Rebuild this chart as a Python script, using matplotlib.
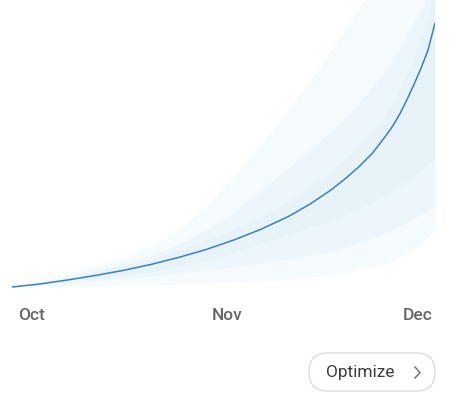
import matplotlib
matplotlib.use("Agg")
import matplotlib.pyplot as plt
from matplotlib.patches import FancyBboxPatch
from matplotlib.lines import Line2D
from matplotlib.transforms import IdentityTransform

# days since Oct 1 (Dec 1 = day 61)
days = [0, 4, 8, 12, 16, 20, 24, 28, 32, 36, 40, 43, 46, 48, 50, 52, 54, 55, 56, 57, 58, 59, 60, 61]

# forecast line
forecast = [1, 4, 8, 12.5, 17.5, 23.5, 30.5, 38.5, 48, 59, 72, 84, 98, 109, 121, 135,
            153, 163, 175, 189, 204, 220, 238, 265]

# bands around the forecast, inner to outer
inner_hi = [1, 5, 10, 15.5, 21.5, 28.5, 37.5, 47.5, 59, 72, 87, 101, 117, 129, 142, 157,
            176, 187, 200, 216, 233, 251, 271, 300]
inner_lo = [1, 4, 7, 10, 13, 16, 22, 28, 36, 45, 54, 61, 67, 73, 79, 86,
            93, 98, 102, 107, 112, 118, 124, 131]
mid_hi = [1, 6, 11, 17, 24, 32, 44, 58, 76, 98, 121, 138, 157, 170, 185, 201,
          218, 229, 241, 253, 266, 279, 293, 308]
mid_lo = [1, 3, 5, 7, 10, 12, 15, 18, 21, 25, 29, 33, 37, 41, 45, 50,
          56, 59, 62, 66, 70, 74, 78, 82]
outer_hi = [1, 8, 15, 22, 30, 42, 58, 82, 112, 145, 180, 208, 238, 259, 280, 301,
            322, 332, 343, 353, 364, 374, 385, 395]
outer_lo = [1, 1, 2, 2, 3, 3, 4, 5, 6, 7, 9, 11, 13, 15, 18, 21,
            25, 28, 31, 35, 40, 45, 51, 58]

tick_days = [0, 31, 61]
tick_labels = ["Oct", "Nov", "Dec"]

W, H = 459, 407
fig = plt.figure(figsize=(W / 100, H / 100), dpi=100)
fig.patch.set_facecolor("white")

ax = fig.add_axes([12 / W, 119 / H, 423 / W, 288 / H])
ax.set_xlim(0, 61)
ax.set_ylim(0, 288)
ax.axis("off")

band_col = "#cde6f5"
for lo, hi in [(outer_lo, outer_hi), (mid_lo, mid_hi), (inner_lo, inner_hi)]:
    ax.fill_between(days, lo, hi, color=band_col, alpha=0.18, lw=0)
ax.plot(days, forecast, color="#3a80bf", lw=1.1, solid_capstyle="round")

# month labels
aligns = ["left", "center", "right"]
offsets = [6, 0, -2]
for d, lab, ha, off in zip(tick_days, tick_labels, aligns, offsets):
    px = 12 + d / 61 * 423 + off
    fig.text(px / W, 1 - 315 / H, lab, ha=ha, va="center", fontsize=12.5,
             family="Roboto", weight="medium", color="#666666")

# Optimize button
btn = FancyBboxPatch((309, H - 391), 126, 38,
                     boxstyle="round,pad=0,rounding_size=19",
                     transform=IdentityTransform(), facecolor="white",
                     edgecolor="#dcdcdc", lw=1)
fig.patches.append(btn)
fig.text(360 / W, 1 - 372 / H, "Optimize", ha="center", va="center",
         fontsize=12.5, family="Roboto", color="#3c3c3c")
# chevron drawn in pixel space
chev = Line2D([415, 420, 415], [H - 367, H - 372.5, H - 378],
              transform=IdentityTransform(), color="#777777", lw=1.1,
              solid_joinstyle="miter")
fig.add_artist(chev)

fig.savefig("out.png", dpi=100, facecolor="white")
